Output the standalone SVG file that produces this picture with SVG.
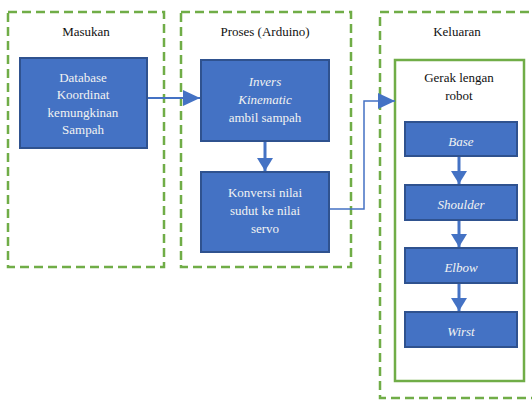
<svg xmlns="http://www.w3.org/2000/svg" width="532" height="400" viewBox="0 0 532 400">
<defs>
<style>
.grp{fill:none;stroke:#70ad47;stroke-width:2.5;stroke-dasharray:9 5}
.inner{fill:#fff;stroke:#70ad47;stroke-width:2.5}
.node{fill:#4472c4;stroke:#2f528f;stroke-width:2}
.t{font-size:13px;text-anchor:middle}
.w{fill:#f2f2f2}
.k{fill:#111}
.i{font-style:italic}
.c{fill:none;stroke:#4472c4}
</style>
<marker id="ah" markerUnits="userSpaceOnUse" markerWidth="18" markerHeight="16" refX="17" refY="8" orient="auto">
<polygon points="0,0 17,8 0,16" fill="#4472c4"/>
</marker>
<marker id="ahv" markerUnits="userSpaceOnUse" markerWidth="14" markerHeight="16" refX="13" refY="8" orient="auto">
<polygon points="0,0 13,8 0,16" fill="#4472c4"/>
</marker>
</defs>
<rect width="532" height="400" fill="#fff"/>
<g font-family="'Liberation Serif', 'Times New Roman', 'DejaVu Serif', serif">
<g id="masukan-group">
<rect class="grp" x="8" y="12" width="156" height="255"/>
<text class="t k" x="86" y="36">Masukan</text>
</g>
<g id="proses-group">
<rect class="grp" x="181" y="12" width="170" height="255"/>
<text class="t k" x="265" y="36">Proses (Arduino)</text>
</g>
<g id="keluaran-group">
<rect class="grp" x="380" y="12" width="160" height="386"/>
<text class="t k" x="457" y="36">Keluaran</text>
</g>
<g id="gerak-group">
<rect class="inner" x="395" y="60" width="129" height="321"/>
<text class="t k" x="459" y="82">Gerak lengan</text>
<text class="t k" x="459" y="100">robot</text>
</g>
<g id="database">
<rect class="node" x="20" y="58" width="127" height="90"/>
<text class="t w" x="83" y="82">Database</text>
<text class="t w" x="83" y="99">Koordinat</text>
<text class="t w" x="83" y="117">kemungkinan</text>
<text class="t w" x="83" y="134">Sampah</text>
</g>
<g id="invers">
<rect class="node" x="201" y="60" width="128" height="81"/>
<text class="t w i" x="265" y="86">Invers</text>
<text class="t w i" x="265" y="104">Kinematic</text>
<text class="t w" x="265" y="122">ambil sampah</text>
</g>
<g id="konversi">
<rect class="node" x="201" y="172" width="128" height="80"/>
<text class="t w" x="265" y="197">Konversi nilai</text>
<text class="t w" x="265" y="215">sudut ke nilai</text>
<text class="t w" x="265" y="233">servo</text>
</g>
<g id="base">
<rect class="node" x="405" y="122" width="112" height="34"/>
<text class="t w i" x="461" y="146">Base</text>
</g>
<g id="shoulder">
<rect class="node" x="405" y="185" width="112" height="35"/>
<text class="t w i" x="461" y="209">Shoulder</text>
</g>
<g id="elbow">
<rect class="node" x="405" y="248" width="112" height="35"/>
<text class="t w i" x="461" y="272">Elbow</text>
</g>
<g id="wirst">
<rect class="node" x="405" y="312" width="112" height="35"/>
<text class="t w i" x="461" y="336">Wirst</text>
</g>
</g>
<g id="connectors">
<path class="c" stroke-width="2" d="M148,98 H200" marker-end="url(#ah)"/>
<path class="c" stroke-width="3" d="M265,142 V171" marker-end="url(#ahv)"/>
<path class="c" stroke-width="1.5" d="M330,209 H364 V101 H395" marker-end="url(#ah)"/>
<path class="c" stroke-width="3" d="M459,157 V184" marker-end="url(#ahv)"/>
<path class="c" stroke-width="3" d="M459,221 V247" marker-end="url(#ahv)"/>
<path class="c" stroke-width="3" d="M459,284 V311" marker-end="url(#ahv)"/>
</g>
</svg>
